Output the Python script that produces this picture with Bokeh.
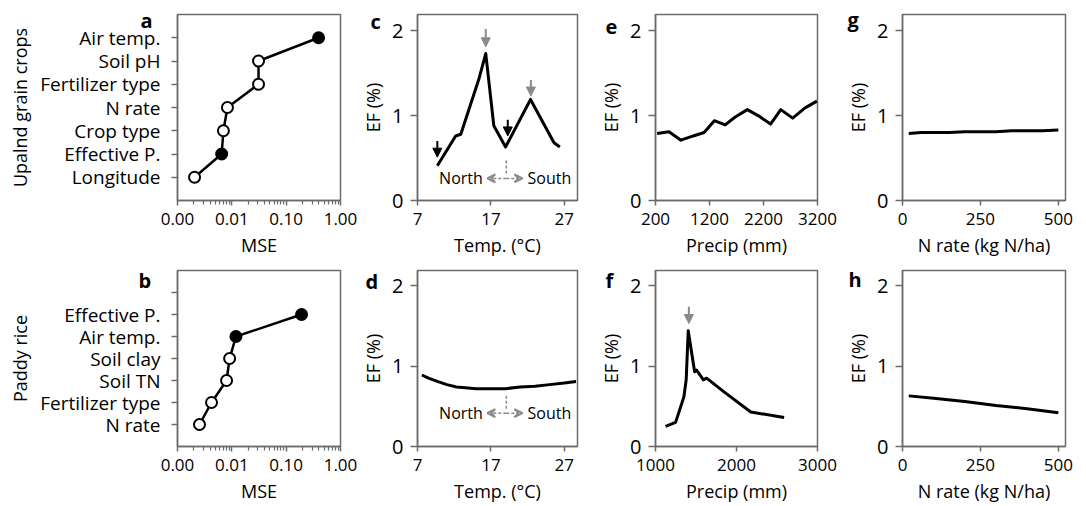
from bokeh.plotting import figure
from bokeh.models import Range1d, FixedTicker, PrintfTickFormatter, Label, Arrow, NormalHead, VeeHead, Title
from bokeh.layouts import row, column
from bokeh.embed import file_html
from bokeh.resources import INLINE

FONT = "Open Sans"
FRAME = "#6b6b6b"
GRAY = "#8a8a8a"

# ---------------- data ----------------
# panel a: upland grain crops, importance (MSE)
a_vars = ["Longitude", "Effective P.", "Crop type", "N rate", "Fertilizer type", "Soil pH", "Air temp."]
a_mse = [0.00206, 0.0065, 0.0070, 0.0083, 0.031, 0.031, 0.395]
a_filled = [False, True, False, False, False, False, True]

# panel b: paddy rice
b_vars = ["N rate", "Fertilizer type", "Soil TN", "Soil clay", "Air temp.", "Effective P."]
b_mse = [0.00254, 0.00423, 0.0080, 0.0091, 0.0119, 0.192]
b_filled = [False, False, False, False, True, True]

mse_ticks = [0.001, 0.01, 0.1, 1.0]

# panel c: upland, temperature
c_temp = [9.7, 12.2, 12.9, 15.4, 16.3, 17.4, 19.0, 22.4, 25.6, 26.4]
c_ef = [0.41, 0.76, 0.78, 1.44, 1.73, 0.88, 0.63, 1.19, 0.68, 0.63]
c_arrow_x = [9.7, 19.3, 16.3, 22.45]
c_arrow_top = [0.70, 0.95, 2.02, 1.42]
c_arrow_bot = [0.51, 0.76, 1.81, 1.23]
c_arrow_col = ["black", "black", GRAY, GRAY]

# panel d: paddy, temperature
d_temp = [7.6, 8.5, 9.7, 11.0, 12.3, 13.5, 15.0, 17.0, 19.0, 21.0, 23.0, 25.0, 27.0, 28.6]
d_ef = [0.89, 0.85, 0.81, 0.77, 0.74, 0.73, 0.72, 0.72, 0.72, 0.74, 0.75, 0.77, 0.79, 0.81]

# panel e: upland, precipitation
e_prec = [230, 450, 670, 900, 1100, 1290, 1490, 1670, 1900, 2100, 2330, 2520, 2740, 2970, 3190]
e_ef = [0.79, 0.81, 0.71, 0.76, 0.80, 0.94, 0.89, 0.98, 1.07, 1.00, 0.90, 1.07, 0.97, 1.09, 1.17]

# panel f: paddy, precipitation
f_prec = [1124, 1248, 1351, 1379, 1404, 1441, 1483, 1507, 1557, 1590, 1631, 1846, 2176, 2588]
f_ef = [0.25, 0.30, 0.62, 0.83, 1.44, 1.20, 0.93, 0.95, 0.88, 0.83, 0.85, 0.68, 0.43, 0.36]
f_arrow_x = [1412]
f_arrow_top = [1.74]
f_arrow_bot = [1.53]

# panel g: upland, N rate
g_n = [20, 60, 100, 150, 200, 250, 300, 350, 400, 450, 500]
g_ef = [0.79, 0.80, 0.80, 0.80, 0.81, 0.81, 0.81, 0.82, 0.82, 0.82, 0.83]

# panel h: paddy, N rate
h_n = [20, 100, 200, 300, 400, 500]
h_ef = [0.63, 0.60, 0.56, 0.51, 0.47, 0.42]

ef_ticks = [0, 1, 2]
EF_MAX = 2.19

# ---------------- layout ----------------
ROW_H = [265, 240]
BORDER_TOP = [14, 5]
BORDER_BOTTOM = [65, 58]
COL_W = [358, 235, 247, 238]
COL_LEFT = [177, 59, 62, 62]
COL_RIGHT = [18, 16, 23, 13]


def make_fig(r, c, x_range, y_range, x_log=False):
    p = figure(width=COL_W[c], height=ROW_H[r], x_range=x_range, y_range=y_range,
               x_axis_type="log" if x_log else "linear",
               min_border_left=COL_LEFT[c], min_border_right=COL_RIGHT[c],
               min_border_top=BORDER_TOP[r], min_border_bottom=BORDER_BOTTOM[r],
               output_backend="svg", toolbar_location=None)
    p.xgrid.visible = False
    p.ygrid.visible = False
    p.outline_line_color = FRAME
    p.outline_line_width = 1.5
    p.background_fill_color = "white"
    p.border_fill_color = "white"
    for ax in (p.xaxis[0], p.yaxis[0]):
        ax.axis_line_color = FRAME
        ax.axis_line_width = 1.5
        ax.major_tick_line_color = FRAME
        ax.major_tick_line_width = 1.5
        ax.minor_tick_line_color = FRAME
        ax.minor_tick_line_width = 1.2
        ax.major_tick_in = 0
        ax.major_tick_out = 5
        ax.minor_tick_in = 0
        ax.minor_tick_out = 4
        ax.major_label_text_font = FONT
        ax.major_label_text_font_size = "17px"
        ax.major_label_text_color = "black"
        ax.axis_label_text_font = FONT
        ax.axis_label_text_font_size = "18px"
        ax.axis_label_text_font_style = "normal"
        ax.axis_label_text_color = "black"
        ax.major_label_standoff = 7
        ax.axis_label_standoff = 5
    return p


def panel_letter(p, letter, dx, dy_px):
    # bold panel letter to the left of the frame's top corner
    p.add_layout(Title(text=letter, align="left", vertical_align="bottom", offset=dx,
                       standoff=-2 * (dy_px + 6), text_font=FONT, text_font_size="20px",
                       text_font_style="bold", text_color="black"), "above")


def importance_panel(r, vars_, mse, filled, ylabel, letter, dx, dy_px, n_slots):
    p = make_fig(r, 0, Range1d(0.001, 1.0), Range1d(0, 8), x_log=True)
    minor = [m * 10.0 ** e for e in (-3, -2, -1) for m in range(2, 10)]
    p.xaxis[0].ticker = FixedTicker(ticks=mse_ticks, minor_ticks=minor)
    p.xaxis[0].formatter = PrintfTickFormatter(format="%.2f")
    p.xaxis[0].axis_label = "MSE"
    pos = list(range(1, len(vars_) + 1))
    ticks = list(range(1, n_slots + 1))
    p.yaxis[0].ticker = FixedTicker(ticks=ticks, minor_ticks=[])
    over = {t: "" for t in ticks}
    for t, v in zip(pos, vars_):
        over[t] = v
    p.yaxis[0].major_label_overrides = over
    p.yaxis[0].major_label_text_font_size = "19px"
    p.yaxis[0].major_tick_out = 6
    p.yaxis[0].major_label_standoff = 11
    p.yaxis[0].axis_label = ylabel
    p.yaxis[0].axis_label_text_font_size = "18px"
    p.yaxis[0].axis_label_standoff = 5
    p.line(mse, pos, line_width=2.5, line_color="black")
    fills = ["black" if f else "white" for f in filled]
    p.scatter(mse, pos, marker="circle", size=11, line_color="black", line_width=2, fill_color=fills)
    panel_letter(p, letter, dx, dy_px)
    return p


def ef_panel(r, c, xr, xticks, xlabel, xs, ys, letter, dx, dy_px):
    p = make_fig(r, c, xr, Range1d(0, EF_MAX))
    p.xaxis[0].ticker = FixedTicker(ticks=xticks, minor_ticks=[])
    p.yaxis[0].ticker = FixedTicker(ticks=ef_ticks, minor_ticks=[])
    p.yaxis[0].major_label_text_font_size = "20px"
    p.yaxis[0].major_tick_out = 7
    p.yaxis[0].major_label_standoff = 7
    p.xaxis[0].axis_label = xlabel
    p.yaxis[0].axis_label = "EF (%)"
    p.yaxis[0].axis_label_standoff = 4
    p.line(xs, ys, line_width=3, line_color="black", line_join="round")
    panel_letter(p, letter, dx, dy_px)
    return p


def add_arrows(p, xs, tops, bots, cols):
    for x, t, b, col in zip(xs, tops, bots, cols):
        p.add_layout(Arrow(x_start=x, y_start=t, x_end=x, y_end=b, line_color=col, line_width=2,
                           end=NormalHead(size=9, fill_color=col, line_color=col, line_width=1)))


def north_south(p, xc, y_top, y_bot, y_arrow, x_left, x_right, x_north, x_south):
    p.segment(x0=[xc], y0=[y_top], x1=[xc], y1=[y_bot], line_color=GRAY, line_width=1.5, line_dash="3 2")
    for xe in (x_left, x_right):
        p.add_layout(Arrow(x_start=xc, y_start=y_arrow, x_end=xe, y_end=y_arrow, line_color=GRAY,
                           line_width=1.5, line_dash="3 2",
                           end=VeeHead(size=8, fill_color=None, line_color=GRAY, line_width=2)))
    p.add_layout(Label(x=x_north, y=y_arrow, text="North", text_font=FONT, text_font_size="16px",
                       text_align="right", text_baseline="middle", text_color="black"))
    p.add_layout(Label(x=x_south, y=y_arrow, text="South", text_font=FONT, text_font_size="16px",
                       text_align="left", text_baseline="middle", text_color="black"))


# ---------------- panels ----------------
pa = importance_panel(0, a_vars, a_mse, a_filled, "Upalnd grain crops", "a", -37, 13, 7)
pb = importance_panel(1, b_vars, b_mse, b_filled, "Paddy rice", "b", -39, 17, 7)

pc = ef_panel(0, 1, Range1d(7, 28.8), [7, 17, 27], "Temp. (°C)", c_temp, c_ef, "c", -47, 14)
add_arrows(pc, c_arrow_x, c_arrow_top, c_arrow_bot, c_arrow_col)
north_south(pc, 19.1, 0.47, 0.30, 0.26, 16.5, 21.3, 15.9, 22.0)

pd_ = ef_panel(1, 1, Range1d(7, 28.8), [7, 17, 27], "Temp. (°C)", d_temp, d_ef, "d", -52, 18)
north_south(pd_, 19.1, 0.63, 0.47, 0.415, 16.5, 21.3, 15.9, 22.0)

pe = ef_panel(0, 2, Range1d(200, 3200), [200, 1200, 2200, 3200], "Precip (mm)", e_prec, e_ef, "e", -50, 13)
pf = ef_panel(1, 2, Range1d(1000, 3000), [1000, 2000, 3000], "Precip (mm)", f_prec, f_ef, "f", -50, 17)
add_arrows(pf, f_arrow_x, f_arrow_top, f_arrow_bot, [GRAY])

pg = ef_panel(0, 3, Range1d(0, 523), [0, 250, 500], "N rate (kg N/ha)", g_n, g_ef, "g", -55, 12)
ph = ef_panel(1, 3, Range1d(0, 523), [0, 250, 500], "N rate (kg N/ha)", h_n, h_ef, "h", -54, 16)

layout = column(row(pa, pc, pe, pg), row(pb, pd_, pf, ph))

open("out.html", "w").write(file_html(layout, INLINE))
